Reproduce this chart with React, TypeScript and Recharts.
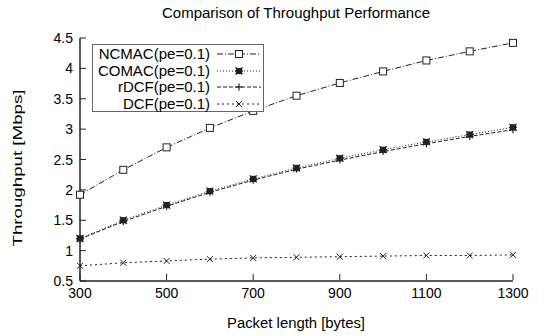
import React from 'react';
import { LineChart, Line, XAxis, YAxis } from 'recharts';

const packetLengths = [300, 400, 500, 600, 700, 800, 900, 1000, 1100, 1200, 1300];
const ncmac = [1.92, 2.33, 2.7, 3.02, 3.3, 3.55, 3.76, 3.95, 4.13, 4.28, 4.42];
const comac = [1.2, 1.5, 1.75, 1.98, 2.18, 2.36, 2.52, 2.66, 2.79, 2.91, 3.03];
const rdcf = [1.19, 1.48, 1.73, 1.96, 2.16, 2.34, 2.49, 2.63, 2.76, 2.88, 2.99];
const dcf = [0.75, 0.8, 0.83, 0.86, 0.88, 0.89, 0.9, 0.91, 0.92, 0.92, 0.93];

const xTicks = [300, 500, 700, 900, 1100, 1300];
const yTicks = [0.5, 1, 1.5, 2, 2.5, 3, 3.5, 4, 4.5];

const title = 'Comparison of Throughput Performance';
const xLabel = 'Packet length [bytes]';
const yLabel = 'Throughput [Mbps]';

const INK = '#222';
const FONT = '"Liberation Sans", Arial, sans-serif';

type Marker = 'square' | 'star' | 'plus' | 'cross';

const series: { key: string; label: string; dash: string; marker: Marker }[] = [
  { key: 'ncmac', label: 'NCMAC(pe=0.1)', dash: '6 2 1 2', marker: 'square' },
  { key: 'comac', label: 'COMAC(pe=0.1)', dash: '1 2', marker: 'star' },
  { key: 'rdcf', label: 'rDCF(pe=0.1)', dash: '4 2', marker: 'plus' },
  { key: 'dcf', label: 'DCF(pe=0.1)', dash: '2 3', marker: 'cross' },
];

const data = packetLengths.map((len, i) => ({
  len,
  ncmac: ncmac[i],
  comac: comac[i],
  rdcf: rdcf[i],
  dcf: dcf[i],
}));

function MarkerShape({ cx, cy, kind }: { cx: number; cy: number; kind: Marker }) {
  const s = 3.5;
  if (kind === 'square') {
    return <rect x={cx - s} y={cy - s} width={s * 2} height={s * 2} fill="#fff" stroke={INK} strokeWidth={1} />;
  }
  if (kind === 'star') {
    return (
      <g stroke={INK} strokeWidth={1.2}>
        <rect x={cx - 2.5} y={cy - 2.5} width={5} height={5} fill={INK} />
        <line x1={cx - s} y1={cy - s} x2={cx + s} y2={cy + s} />
        <line x1={cx - s} y1={cy + s} x2={cx + s} y2={cy - s} />
        <line x1={cx - s - 0.5} y1={cy} x2={cx + s + 0.5} y2={cy} />
      </g>
    );
  }
  if (kind === 'plus') {
    return (
      <g stroke={INK} strokeWidth={1.2}>
        <line x1={cx - s} y1={cy} x2={cx + s} y2={cy} />
        <line x1={cx} y1={cy - s} x2={cx} y2={cy + s} />
      </g>
    );
  }
  return (
    <g stroke={INK} strokeWidth={1}>
      <line x1={cx - 3} y1={cy - 3} x2={cx + 3} y2={cy + 3} />
      <line x1={cx - 3} y1={cy + 3} x2={cx + 3} y2={cy - 3} />
    </g>
  );
}

const makeDot = (kind: Marker) => (props: any) => {
  const { cx, cy, index } = props;
  if (cx == null || cy == null) return <g key={index} />;
  return (
    <g key={index}>
      <MarkerShape cx={cx} cy={cy} kind={kind} />
    </g>
  );
};

const BottomTick = (props: any) => {
  const { x, y, payload } = props;
  return (
    <g>
      <line x1={x} y1={y - 8} x2={x} y2={y - 14} stroke={INK} />
      <text x={x} y={y + 10} textAnchor="middle" fontSize={14} fontFamily={FONT} fill="#000">
        {payload.value}
      </text>
    </g>
  );
};

const TopTick = (props: any) => {
  const { x, y } = props;
  return <line x1={x} y1={y + 8} x2={x} y2={y + 14} stroke={INK} />;
};

const LeftTick = (props: any) => {
  const { x, y, payload } = props;
  return (
    <g>
      <line x1={x + 7} y1={y} x2={x + 13} y2={y} stroke={INK} />
      <text x={x} y={y + 5} textAnchor="end" fontSize={14} fontFamily={FONT} fill="#000">
        {payload.value}
      </text>
    </g>
  );
};

const RightTick = (props: any) => {
  const { x, y } = props;
  return <line x1={x - 7} y1={y} x2={x - 13} y2={y} stroke={INK} />;
};

export default function App() {
  return (
    <div style={{ position: 'absolute', left: 0, top: 0, width: 544, height: 336, background: '#fff', fontFamily: FONT }}>
      <LineChart width={544} height={336} data={data} margin={{ top: 38, right: 31, bottom: 30, left: 40 }}>
        <XAxis
          dataKey="len"
          type="number"
          domain={[300, 1300]}
          ticks={xTicks}
          tickSize={0}
          tickMargin={7}
          tickLine={false}
          tick={<BottomTick />}
          axisLine={{ stroke: INK, strokeWidth: 1.5 }}
          height={25}
          interval={0}
        />
        <XAxis
          xAxisId="top"
          orientation="top"
          dataKey="len"
          type="number"
          domain={[300, 1300]}
          ticks={xTicks}
          tickSize={0}
          tickMargin={7}
          tickLine={false}
          tick={<TopTick />}
          axisLine={{ stroke: INK, strokeWidth: 1.5 }}
          height={0}
          interval={0}
        />
        <YAxis
          type="number"
          domain={[0.5, 4.5]}
          ticks={yTicks}
          tickSize={0}
          tickMargin={7}
          tickLine={false}
          tick={<LeftTick />}
          axisLine={{ stroke: INK, strokeWidth: 1.5 }}
          width={40}
          interval={0}
        />
        <YAxis
          yAxisId="right"
          orientation="right"
          type="number"
          domain={[0.5, 4.5]}
          ticks={yTicks}
          tickSize={0}
          tickMargin={7}
          tickLine={false}
          tick={<RightTick />}
          axisLine={{ stroke: INK, strokeWidth: 1.5 }}
          width={0}
          interval={0}
        />
        {series.map((s) => (
          <Line
            key={s.key}
            type="linear"
            dataKey={s.key}
            stroke={INK}
            strokeWidth={1}
            strokeDasharray={s.dash}
            dot={makeDot(s.marker)}
            activeDot={false}
            isAnimationActive={false}
          />
        ))}
      </LineChart>
      <svg
        width={544}
        height={336}
        style={{ position: 'absolute', left: 0, top: 0, pointerEvents: 'none' }}
        fontFamily={FONT}
        fill="#000"
      >
        <text x={162} y={18} fontSize={14} textLength={268} lengthAdjust="spacingAndGlyphs">
          {title}
        </text>
        <text x={227} y={328} fontSize={14} textLength={138} lengthAdjust="spacingAndGlyphs">
          {xLabel}
        </text>
        <text
          x={0}
          y={0}
          fontSize={13}
          textAnchor="middle"
          textLength={157}
          lengthAdjust="spacingAndGlyphs"
          transform="translate(22, 168) rotate(-90)"
        >
          {yLabel}
        </text>
      </svg>
      <div
        style={{
          position: 'absolute',
          left: 92,
          top: 44,
          width: 172,
          height: 68,
          border: '1px solid #666',
          boxSizing: 'border-box',
          background: '#fff',
        }}
      >
        {series.map((s, i) => (
          <div key={s.key} style={{ position: 'absolute', left: 0, top: 1 + i * 16.5, height: 16, width: 170 }}>
            <div style={{ position: 'absolute', right: 53, top: -1, fontSize: 15, lineHeight: '17px', color: '#000', whiteSpace: 'nowrap' }}>
              {s.label}
            </div>
            <svg style={{ position: 'absolute', left: 122, top: 0 }} width={48} height={16}>
              <line x1={2} y1={8} x2={46} y2={8} stroke={INK} strokeDasharray={s.dash} />
              <MarkerShape cx={24} cy={8} kind={s.marker} />
            </svg>
          </div>
        ))}
      </div>
    </div>
  );
}
